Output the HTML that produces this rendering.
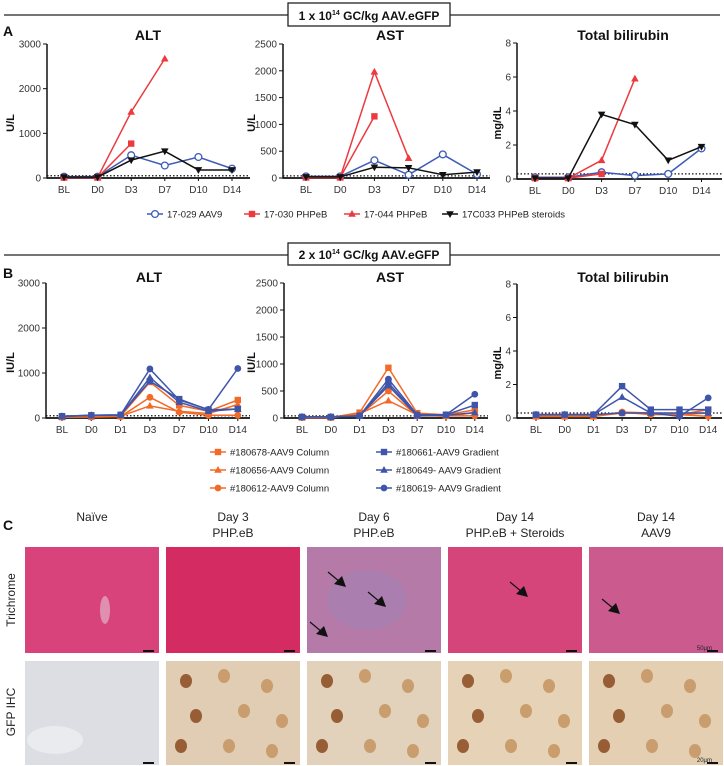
<!DOCTYPE html>
<html><head><meta charset="utf-8">
<style>
html,body{margin:0;padding:0;background:#fff;}
body{width:724px;height:766px;position:relative;overflow:hidden;font-family:"Liberation Sans",Arial,sans-serif;}
svg{position:absolute;left:0;top:0;}
</style></head>
<body>
<svg id="fig" width="724" height="766" viewBox="0 0 724 766" font-family="Liberation Sans, Arial, sans-serif"></svg>
<script>
// ---------- data ----------
const catsA = ["BL","D0","D3","D7","D10","D14"];
const catsB = ["BL","D0","D1","D3","D7","D10","D14"];
const seriesNamesA = ["17-029 AAV9","17-030 PHPeB","17-044 PHPeB","17C033 PHPeB steroids"];
const altA_029 = [30,30,510,280,470,210];
const altA_030 = [10,10,770];
const altA_044 = [10,10,1480,2670];
const altA_C033 = [20,20,400,600,180,180];
const astA_029 = [30,30,330,60,440,70];
const astA_030 = [10,10,1150];
const astA_044 = [10,10,1980,370];
const astA_C033 = [20,20,200,190,60,110];
const bilA_029 = [0.1,0.1,0.4,0.2,0.3,1.8];
const bilA_030 = [0.05,0.05,0.3];
const bilA_044 = [0.05,0.05,1.1,5.9];
const bilA_C033 = [0.05,0.05,3.8,3.2,1.1,1.9];
const seriesNamesB = ["#180678-AAV9 Column","#180656-AAV9 Column","#180612-AAV9 Column","#180661-AAV9 Gradient","#180649- AAV9 Gradient","#180619- AAV9 Gradient"];
const altB_678 = [20,30,40,800,280,150,400];
const altB_656 = [20,30,40,270,150,100,300];
const altB_612 = [20,20,30,460,130,60,60];
const altB_661 = [40,60,70,820,420,180,200];
const altB_649 = [30,60,60,900,350,150,200];
const altB_619 = [40,60,70,1090,400,190,1100];
const astB_678 = [10,10,100,930,90,60,150];
const astB_656 = [10,10,80,320,60,30,100];
const astB_612 = [10,10,50,500,40,40,40];
const astB_661 = [20,20,40,650,50,60,240];
const astB_649 = [20,20,40,600,40,50,100];
const astB_619 = [20,20,40,720,60,60,440];
const bilB_678 = [0.1,0.1,0.1,0.3,0.3,0.2,0.5];
const bilB_656 = [0.1,0.1,0.1,0.35,0.3,0.2,0.3];
const bilB_612 = [0.1,0.1,0.1,0.35,0.2,0.2,0.1];
const bilB_661 = [0.2,0.2,0.2,1.9,0.5,0.5,0.5];
const bilB_649 = [0.2,0.2,0.2,1.25,0.3,0.3,0.3];
const bilB_619 = [0.2,0.2,0.2,0.3,0.3,0.1,1.2];
const altTicks = [0,1000,2000,3000];
const astTicks = [0,500,1000,1500,2000,2500];
const bilTicks = [0,2,4,6,8];

const NS="http://www.w3.org/2000/svg";
const svg=document.getElementById('fig');
function mk(tag,attrs,parent){const e=document.createElementNS(NS,tag);for(const k in attrs)e.setAttribute(k,attrs[k]);(parent||svg).appendChild(e);return e;}
function txt(s,x,y,attrs,parent){const e=mk('text',Object.assign({x:x,y:y},attrs),parent);e.textContent=s;return e;}

const RED="#ec3a3f",BLUE="#3d5bb5",BLK="#111",OR="#f26a28",BL2="#3f55aa";

function marker(g,shape,x,y,color,open){
  let e;
  if(shape==='sq') e=mk('rect',{x:x-3.2,y:y-3.2,width:6.4,height:6.4,fill:color},g);
  else if(shape==='tri') e=mk('polygon',{points:`${x},${y-4} ${x-3.8},${y+2.8} ${x+3.8},${y+2.8}`,fill:color},g);
  else if(shape==='dtri') e=mk('polygon',{points:`${x},${y+4} ${x-3.8},${y-2.8} ${x+3.8},${y-2.8}`,fill:color},g);
  else if(shape==='circ') e=mk('circle',{cx:x,cy:y,r:3.4,fill:open?'#fff':color,stroke:color,'stroke-width':open?1.3:0},g);
  return e;
}

function chart(o){
  const g=mk('g',{});
  
  
  const yS=v=>o.y0-(v/o.ymax)*(o.y0-o.y1);
  const xS=i=>o.xFirst+i*o.xStep;
  const t=txt(o.title,o.tx,o.ty,{'font-size':14,'font-weight':'bold','text-anchor':'middle',fill:'#111'},g);
  
  
  const yt=txt(o.ylab,0,0,{'font-size':11,'font-weight':'bold','text-anchor':'middle',fill:'#111',transform:`translate(${o.ylx+4},${(o.y0+o.y1)/2+12}) rotate(-90)`},g);
  
  
  o.ticks.forEach(v=>{
    const y=yS(v);
    mk('line',{x1:o.ax-4,x2:o.ax,y1:y,y2:y,stroke:'#111','stroke-width':1},g);
    const l=txt(String(v),o.ax-6,y+3.5,{'font-size':10,'text-anchor':'end',fill:'#333'},g);
    
    
  });
  mk('line',{x1:o.ax,x2:o.ax,y1:o.y1,y2:o.y0+0.8,stroke:'#111','stroke-width':1.5},g);
  mk('line',{x1:o.ax,x2:o.xEnd,y1:o.y0,y2:o.y0,stroke:'#111','stroke-width':1.8},g);
  o.cats.forEach((c,i)=>{
    const x=xS(i);
    mk('line',{x1:x,x2:x,y1:o.y0,y2:o.y0+3,stroke:'#111','stroke-width':1},g);
    const l=txt(c,x,o.y0+15,{'font-size':10,'text-anchor':'middle',fill:'#333'},g);
    
    
  });
  const dy=yS(o.ref);
  mk('line',{x1:o.ax,x2:o.xEnd,y1:dy,y2:dy,stroke:'#111','stroke-width':1.2,'stroke-dasharray':'1.5,2'},g);
  o.series.forEach(s=>{
    const sg=mk('g',{},g);
    
    
    const pts=s.vals.map((v,i)=>`${xS(i)},${yS(v)}`).join(' ');
    mk('polyline',{points:pts,fill:'none',stroke:s.color,'stroke-width':1.5},sg);
    s.vals.forEach((v,i)=>{
      const m=marker(sg,s.shape,xS(i),yS(v),s.color,s.open);
      
      
    });
  });
}

function header(label,y,bx1,bx2,by1,by2){
  const g=mk('g',{});
  
  
  mk('line',{x1:4,x2:720,y1:y,y2:y,stroke:'#222','stroke-width':1.3},g);
  mk('rect',{x:bx1,y:by1,width:bx2-bx1,height:by2-by1,fill:'#fff',stroke:'#222','stroke-width':1.3},g);
  const t=mk('text',{x:(bx1+bx2)/2,y:by2-6,'font-size':12,'font-weight':'bold','text-anchor':'middle',fill:'#111'},g);
  t.innerHTML=label;
}
header('1 x 10<tspan dy="-5" font-size="7">14</tspan><tspan dy="5"> GC/kg AAV.eGFP</tspan>',15,288,450,3,26);
header('2 x 10<tspan dy="-5" font-size="7">14</tspan><tspan dy="5"> GC/kg AAV.eGFP</tspan>',255,288,450,243,265);

function panelLetter(s,y){const t=txt(s,3,y,{'font-size':14,'font-weight':'bold',fill:'#111'});}
panelLetter('A',36);panelLetter('B',278);panelLetter('C',530);

const serA=(a,b,c,d)=>[
 {key:'17-029',vals:a,color:BLUE,shape:'circ',open:true},
 {key:'17-030',vals:b,color:RED,shape:'sq'},
 {key:'17-044',vals:c,color:RED,shape:'tri'},
 {key:'17C033',vals:d,color:BLK,shape:'dtri'}];
chart({name:'chart-a-alt',title:'ALT',tx:148,ty:40,ylab:'U/L',ylx:10,ax:47,y0:178,y1:44,ymax:3000,ticks:altTicks,cats:catsA,xFirst:64,xStep:33.6,xEnd:250,ref:50,series:serA(altA_029,altA_030,altA_044,altA_C033)});
chart({name:'chart-a-ast',title:'AST',tx:390,ty:40,ylab:'U/L',ylx:251,ax:283,y0:178,y1:44,ymax:2500,ticks:astTicks,cats:catsA,xFirst:306,xStep:34.2,xEnd:490,ref:40,series:serA(astA_029,astA_030,astA_044,astA_C033)});
chart({name:'chart-a-bilirubin',title:'Total bilirubin',tx:623,ty:40,ylab:'mg/dL',ylx:497,ax:517,y0:179,y1:43,ymax:8,ticks:bilTicks,cats:catsA,xFirst:535,xStep:33.3,xEnd:722,ref:0.3,series:serA(bilA_029,bilA_030,bilA_044,bilA_C033)});

const serB=(a,b,c,d,e,f)=>[
 {key:'180678',vals:a,color:OR,shape:'sq'},
 {key:'180656',vals:b,color:OR,shape:'tri'},
 {key:'180612',vals:c,color:OR,shape:'circ'},
 {key:'180661',vals:d,color:BL2,shape:'sq'},
 {key:'180649',vals:e,color:BL2,shape:'tri'},
 {key:'180619',vals:f,color:BL2,shape:'circ'}];
chart({name:'chart-b-alt',title:'ALT',tx:149,ty:282,ylab:'IU/L',ylx:10,ax:46,y0:418,y1:283,ymax:3000,ticks:altTicks,cats:catsB,xFirst:62,xStep:29.3,xEnd:250,ref:50,series:serB(altB_678,altB_656,altB_612,altB_661,altB_649,altB_619)});
chart({name:'chart-b-ast',title:'AST',tx:390,ty:282,ylab:'IU/L',ylx:251,ax:284,y0:418,y1:283,ymax:2500,ticks:astTicks,cats:catsB,xFirst:302,xStep:28.8,xEnd:488,ref:40,series:serB(astB_678,astB_656,astB_612,astB_661,astB_649,astB_619)});
chart({name:'chart-b-bilirubin',title:'Total bilirubin',tx:623,ty:282,ylab:'mg/dL',ylx:497,ax:517,y0:418,y1:284,ymax:8,ticks:bilTicks,cats:catsB,xFirst:536,xStep:28.7,xEnd:722,ref:0.3,series:serB(bilB_678,bilB_656,bilB_612,bilB_661,bilB_649,bilB_619)});

function legendItem(x,y,shape,color,open,label){
  const g=mk('g',{});
  
  
  mk('line',{x1:x-8,x2:x+8,y1:y,y2:y,stroke:color,'stroke-width':1.5},g);
  marker(g,shape,x,y,color,open);
  txt(label,x+12,y+3.5,{'font-size':9.5,fill:'#222'},g);
}
const legA=[[155,'circ',BLUE,true],[252,'sq',RED,false],[352,'tri',RED,false],[450,'dtri',BLK,false]];
legA.forEach((l,i)=>legendItem(l[0],214,l[1],l[2],l[3],seriesNamesA[i]));
const legB=[[218,452,'sq',OR],[218,470,'tri',OR],[218,488,'circ',OR],[384,452,'sq',BL2],[384,470,'tri',BL2],[384,488,'circ',BL2]];
legB.forEach((l,i)=>legendItem(l[0],l[1],l[2],l[3],false,seriesNamesB[i]));

// ---------- panel C (histology) ----------
const colX=[25,166,307,448,589];
const colW=134;
const heads=[["Naïve",""],["Day 3","PHP.eB"],["Day 6","PHP.eB"],["Day 14","PHP.eB + Steroids"],["Day 14","AAV9"]];
const triColors=["#d8437c","#d42c62","#b57aa8","#d64579","#cb5a8e"];
const ihcColors=["#dcdee4","#e0cdb4","#e2d2bc","#e6d2b6","#e4cfb2"];
heads.forEach((h,i)=>{
  const cx=colX[i]+colW/2;
  const g=mk('g',{});
  
  
  txt(h[0],cx,521,{'font-size':12,'text-anchor':'middle',fill:'#222'},g);
  if(h[1])txt(h[1],cx,537,{'font-size':12,'text-anchor':'middle',fill:'#222'},g);
  const r1=mk('rect',{x:colX[i],y:547,width:colW,height:106,fill:triColors[i]});
  
  
  const r2=mk('rect',{x:colX[i],y:661,width:colW,height:104,fill:ihcColors[i]});
  
  
  mk('rect',{x:colX[i]+colW-16,y:650,width:11,height:2,fill:'#111'});
  mk('rect',{x:colX[i]+colW-16,y:762,width:11,height:2,fill:'#111'});
});
const pattern=[[20,20],[55,15],[95,25],[30,55],[75,50],[110,60],[15,85],[60,85],[100,90]];
[1,2,3,4].forEach(i=>{
  pattern.forEach((p,j)=>{
    mk('ellipse',{cx:colX[i]+p[0]+(j%3)*3,cy:661+p[1],rx:6,ry:7,fill:j%3===0?'#8a4a1e':'#c49460',opacity:0.85});
  });
});
mk('ellipse',{cx:colX[0]+30,cy:740,rx:28,ry:14,fill:'#eceef0',opacity:0.8});
mk('ellipse',{cx:colX[2]+60,cy:600,rx:40,ry:30,fill:'#9a86b8',opacity:0.4});
mk('ellipse',{cx:colX[0]+80,cy:610,rx:5,ry:14,fill:'#e3b0c8',opacity:0.7});
[[338,580],[378,600],[320,630],[520,590],[612,607]].forEach(a=>{
  mk('line',{x1:a[0]-10,y1:a[1]-8,x2:a[0]+2,y2:a[1]+2,stroke:'#111','stroke-width':1.2});
  mk('polygon',{points:`${a[0]+8},${a[1]+7} ${a[0]-4},${a[1]+4} ${a[0]+4},${a[1]-4}`,fill:'#111'});
});
txt('50µm',712,650,{'font-size':6,'text-anchor':'end',fill:'#222'});
txt('20µm',712,762,{'font-size':6,'text-anchor':'end',fill:'#222'});
const rl1=txt('Trichrome',0,0,{'font-size':12,'text-anchor':'middle',fill:'#222',transform:'translate(15,600) rotate(-90)'});


const rl2=txt('GFP IHC',0,0,{'font-size':12,'text-anchor':'middle',fill:'#222',transform:'translate(15,712) rotate(-90)'});


</script>
</body></html>
